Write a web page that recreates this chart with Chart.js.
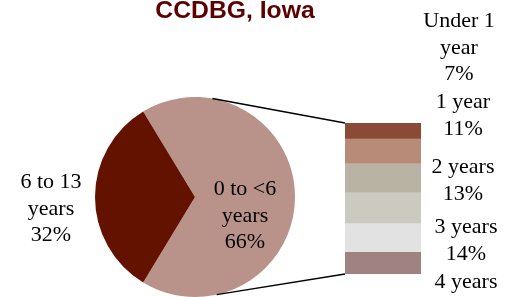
<!DOCTYPE html>
<html>
<head>
<meta charset="utf-8">
<script src="https://cdn.jsdelivr.net/npm/chart.js@4"></script>
<style>
html,body{margin:0;padding:0;background:#fff;}
#wrap{position:relative;width:513px;height:297px;overflow:hidden;}
#wrap canvas{position:absolute;left:0;top:0;}
</style>
</head>
<body>
<div id="wrap">
<canvas id="pie" width="513" height="297"></canvas>
<canvas id="bar" width="513" height="297"></canvas>
</div>
<script>
// ---- data ----
const titleText = "CCDBG, Iowa";
const pieCategories = [["0 to <6", "years"], ["6 to 13", "years"]];
const pieValues = [66, 32];
const pieColors = ["#B9938A", "#641200"];

const barCategories = [["Under 1", "year"], ["1 year"], ["2 years"], ["3 years"], ["4 years"], ["5 years"]];
const barValues = [7, 11, 13, 14, 13, 10];
const barLabelValues = ["7%", "11%", "13%", "14%", "", ""];
const barColors = ["#8B4A35", "#B88A78", "#B8B3A2", "#CCC9C1", "#E2E2E2", "#A08282"];

// ---- layout (positions only) ----
const serif = "22px 'Liberation Serif', 'Times New Roman', serif";
const lineGap = 26.5;
const pieLabelPos = [{x: 245, y: 195}, {x: 51, y: 188}];
const barLabelPos = [{x: 459, y: 27}, {x: 463, y: 108}, {x: 463, y: 173}, {x: 466, y: 233}, {x: 466, y: 288}, {x: 466, y: 340}];

const pieTotal = pieValues.reduce((a, b) => a + b, 0);
const rotation = 270 - (pieValues[0] + pieValues[1] / 2) / pieTotal * 360;

function drawLines(ctx, lines, x, y) {
  ctx.font = serif;
  ctx.fillStyle = "#000";
  ctx.textAlign = "center";
  ctx.textBaseline = "alphabetic";
  lines.forEach((t, i) => { if (t) ctx.fillText(t, x, y + i * lineGap); });
}

const piePlugin = {
  id: "pieDeco",
  afterDraw(chart) {
    const ctx = chart.ctx;
    ctx.save();
    ctx.translate(235, 17.5);
    ctx.scale(1.03, 1);
    ctx.font = "bold 24px 'Liberation Sans', Arial, sans-serif";
    ctx.fillStyle = "#5C0000";
    ctx.textAlign = "center";
    ctx.textBaseline = "alphabetic";
    ctx.fillText(titleText, 0, 0);
    ctx.restore();
    ctx.save();
    pieCategories.forEach((c, i) => {
      drawLines(ctx, c.concat([pieValues[i] + "%"]), pieLabelPos[i].x, pieLabelPos[i].y);
    });
    ctx.restore();
  }
};

const pieChart = new Chart(document.getElementById("pie"), {
  type: "pie",
  data: {
    labels: pieCategories.map(c => c.join(" ")),
    datasets: [{ data: pieValues, backgroundColor: pieColors, borderWidth: 0 }]
  },
  options: {
    responsive: false,
    animation: false,
    rotation: rotation,
    layout: { padding: { left: 95, top: 97, right: 218, bottom: 0 } },
    plugins: { legend: { display: false }, tooltip: { enabled: false }, title: { display: false } }
  },
  plugins: [piePlugin]
});

const barTotal = barValues.reduce((a, b) => a + b, 0);

const barPlugin = {
  id: "barDeco",
  afterDraw(chart) {
    const ctx = chart.ctx;
    const arc = pieChart.getDatasetMeta(0).data[0];
    const cx = arc.x, cy = arc.y, r = arc.outerRadius;
    const first = chart.getDatasetMeta(0).data[0];
    const last = chart.getDatasetMeta(barValues.length - 1).data[0];
    const left = first.x - first.width / 2;
    const top = Math.min(first.y, first.base);
    const bottom = Math.max(last.y, last.base);
    const a1 = 10 * Math.PI / 180, a2 = 167.5 * Math.PI / 180;
    ctx.save();
    ctx.strokeStyle = "#000";
    ctx.lineWidth = 1.5;
    ctx.beginPath();
    ctx.moveTo(cx + r * Math.sin(a1), cy - r * Math.cos(a1));
    ctx.lineTo(left, top);
    ctx.moveTo(cx + r * Math.sin(a2), cy - r * Math.cos(a2));
    ctx.lineTo(left, bottom);
    ctx.stroke();
    barCategories.forEach((c, i) => {
      const p = barLabelPos[i];
      if (p.y > chart.height) return;
      const lines = c.concat([barLabelValues[i]]).filter((t, j) => p.y + j * lineGap < chart.height + 10);
      drawLines(ctx, lines, p.x, p.y);
    });
    ctx.restore();
  }
};

new Chart(document.getElementById("bar"), {
  type: "bar",
  data: {
    labels: ["0 to <6 years"],
    datasets: barCategories.map((c, i) => ({
      label: c.join(" "),
      data: [barValues[i]],
      backgroundColor: barColors[i],
      borderWidth: 0,
      barPercentage: 1,
      categoryPercentage: 1
    }))
  },
  options: {
    responsive: false,
    animation: false,
    layout: { padding: { left: 345, right: 92, top: 123, bottom: 23 } },
    scales: {
      x: { display: false, stacked: true },
      y: { display: false, stacked: true, min: 0, max: barTotal, reverse: true }
    },
    plugins: { legend: { display: false }, tooltip: { enabled: false }, title: { display: false } }
  },
  plugins: [barPlugin]
});
</script>
</body>
</html>
